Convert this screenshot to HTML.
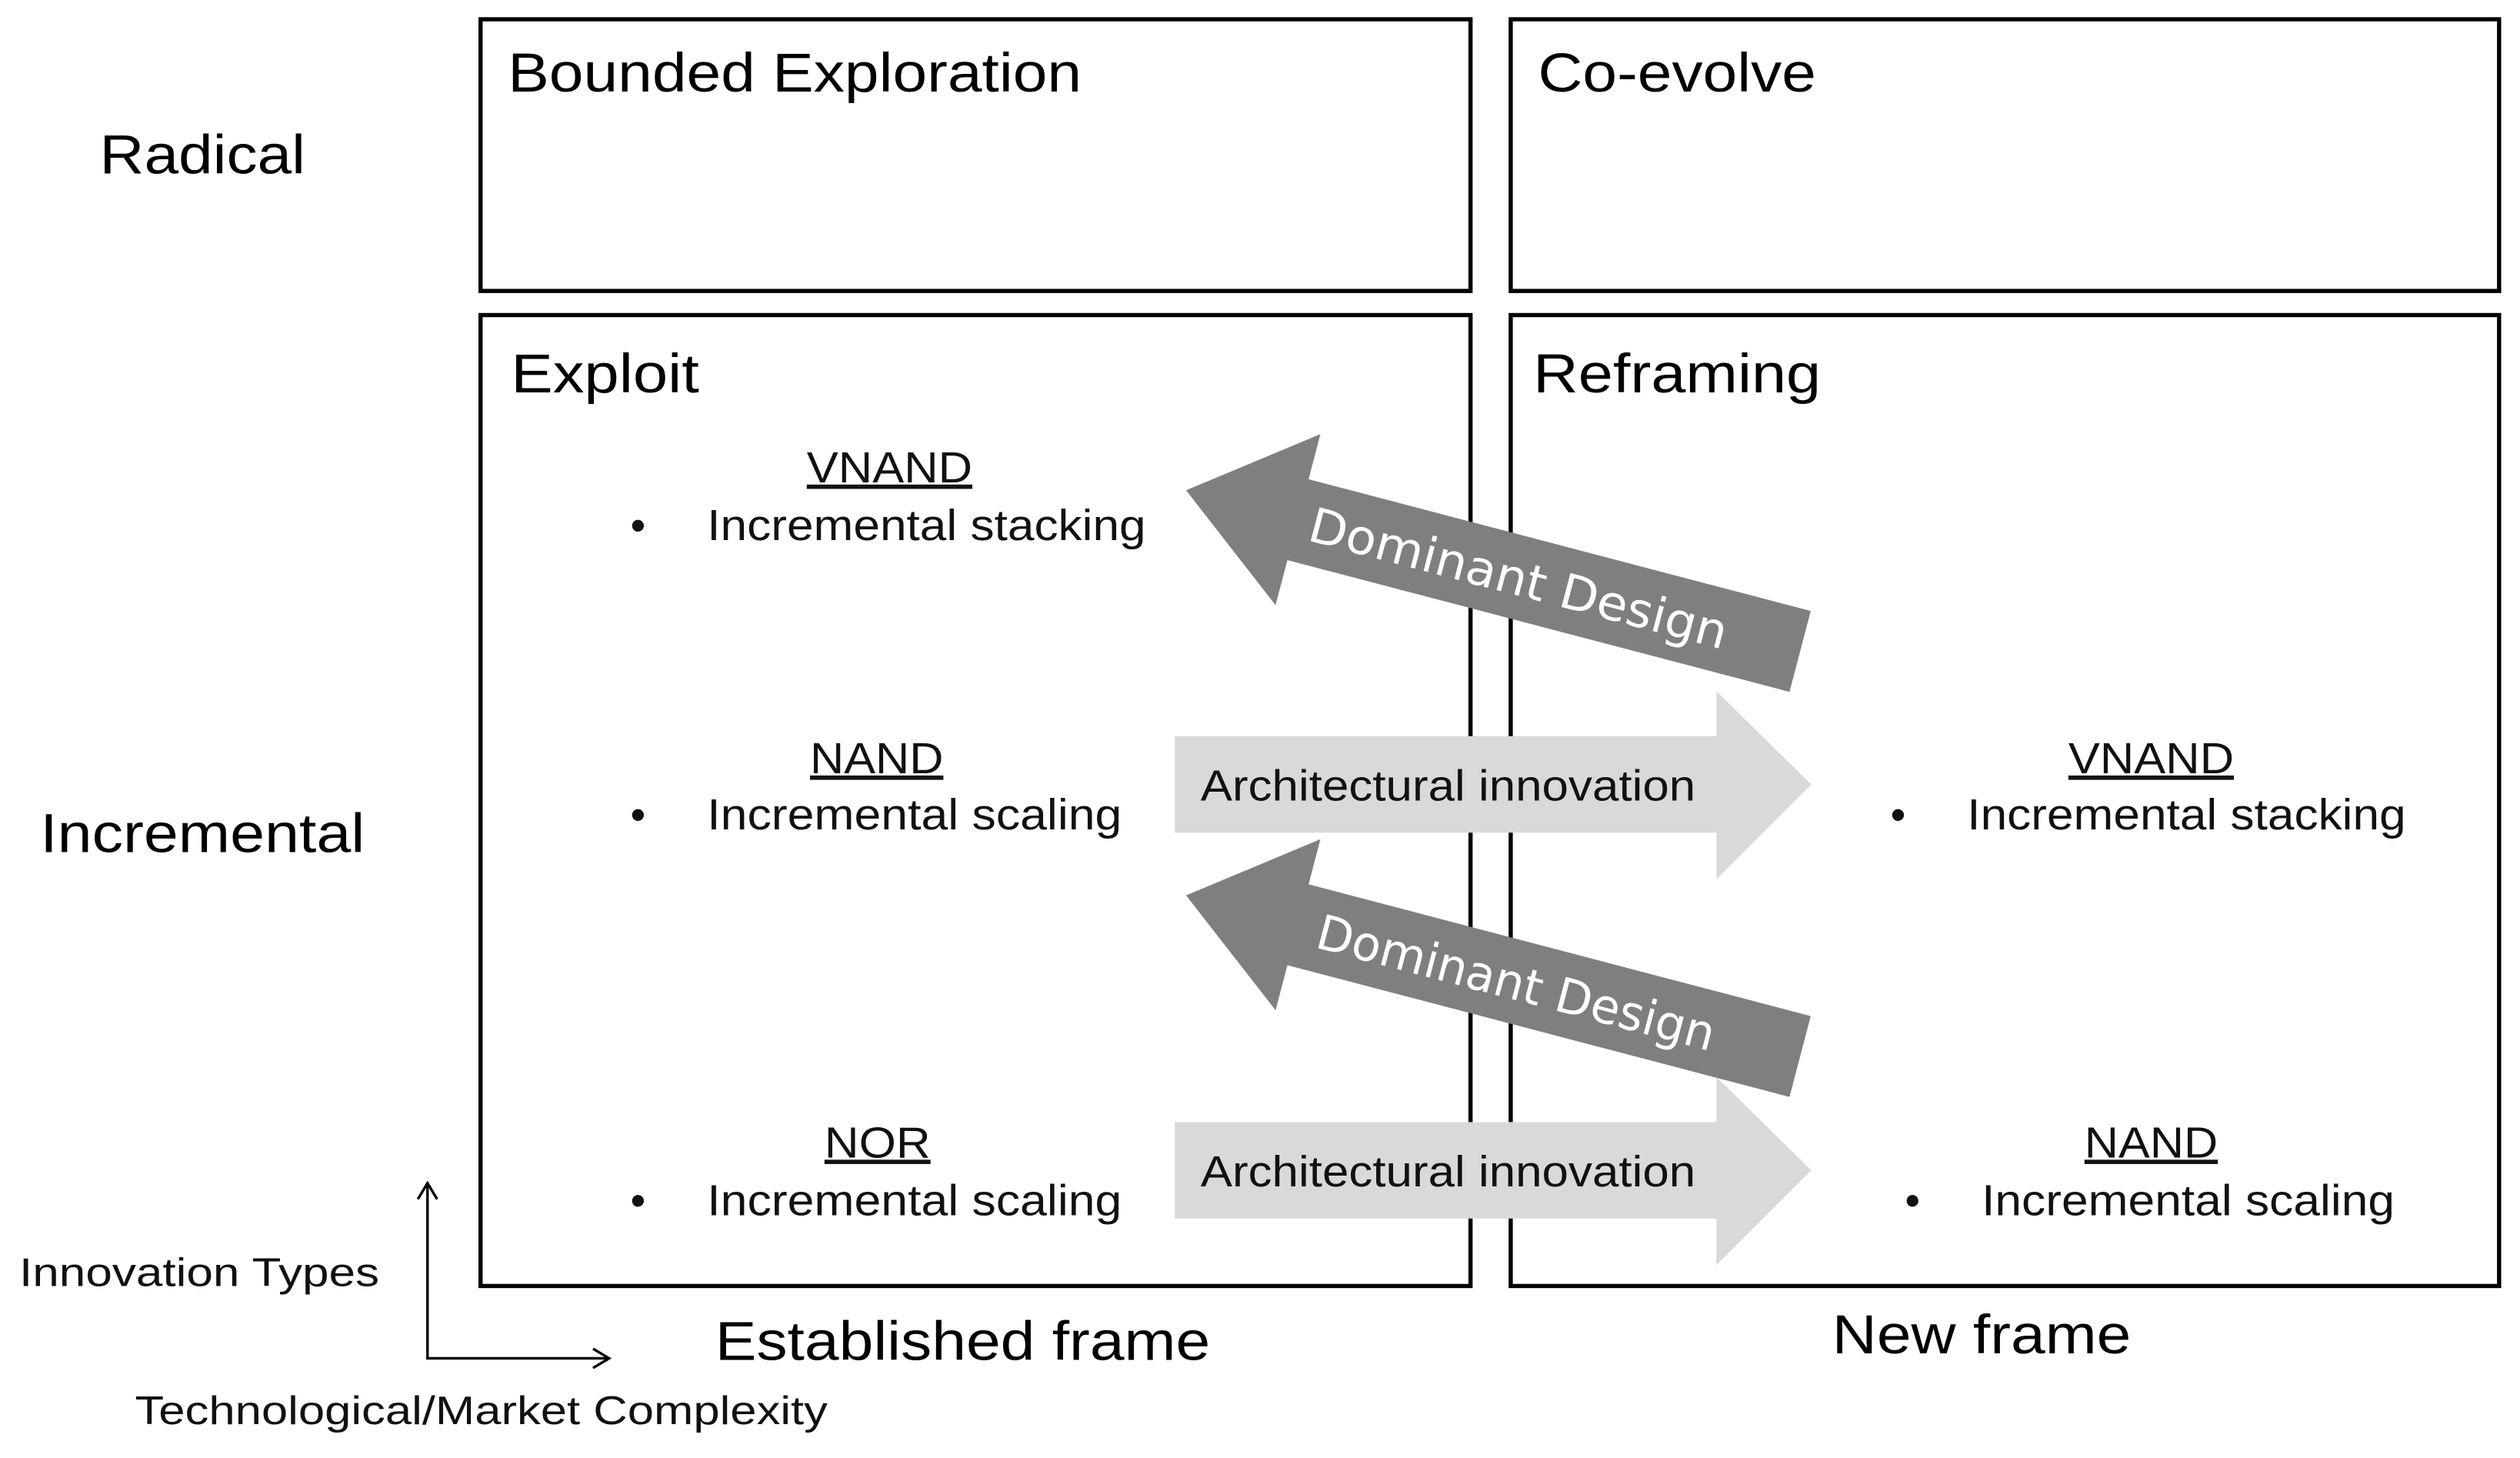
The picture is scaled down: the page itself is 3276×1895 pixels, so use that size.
<!DOCTYPE html>
<html><head><meta charset="utf-8"><style>html,body{margin:0;padding:0;background:#fff}svg{display:block}</style></head>
<body>
<svg width="3276" height="1895" viewBox="0 0 1568 907" preserveAspectRatio="none" xmlns="http://www.w3.org/2000/svg" font-family="Liberation Sans, sans-serif">
<rect x="0" y="0" width="1568" height="907" fill="#fff"/>
<g fill="none" stroke="#000" stroke-width="2.6">
<rect x="299" y="12" width="616" height="169"/>
<rect x="940" y="12" width="615" height="169"/>
<rect x="299" y="196" width="616" height="604"/>
<rect x="940" y="196" width="615" height="604"/>
</g>
<polygon points="731,458 1068,458 1068,430 1127,488 1068,547 1068,518 731,518" fill="#d9d9d9"/>
<polygon points="731,698 1068,698 1068,670 1127,728 1068,787 1068,758 731,758" fill="#d9d9d9"/>
<g font-size="27" fill="#111">
<text x="747" y="498" textLength="308" lengthAdjust="spacingAndGlyphs">Architectural innovation</text>
<text x="747" y="738" textLength="308" lengthAdjust="spacingAndGlyphs">Architectural innovation</text>
</g>
<g transform="translate(738,305) rotate(14.7)">
<polygon points="0,0 72,-55 72,-26 395,-26 395,26 72,26 72,55" fill="#7f7f7f"/>
<text x="80" y="11" font-size="30" fill="#fff" textLength="268" lengthAdjust="spacingAndGlyphs" font-family="DejaVu Sans, sans-serif">Dominant Design</text>
</g>
<g transform="translate(738,557) rotate(14.7)">
<polygon points="0,0 72,-55 72,-26 395,-26 395,26 72,26 72,55" fill="#7f7f7f"/>
<text x="85" y="11" font-size="30" fill="#fff" textLength="255" lengthAdjust="spacingAndGlyphs" font-family="DejaVu Sans, sans-serif">Dominant Design</text>
</g>
<g fill="#000" font-size="34" lengthAdjust="spacingAndGlyphs">
<text x="316" y="57" textLength="357" lengthAdjust="spacingAndGlyphs">Bounded Exploration</text>
<text x="957" y="57" textLength="173" lengthAdjust="spacingAndGlyphs">Co-evolve</text>
<text x="62" y="108" textLength="128" lengthAdjust="spacingAndGlyphs">Radical</text>
<text x="25" y="530" textLength="202" lengthAdjust="spacingAndGlyphs">Incremental</text>
<text x="318" y="244" textLength="117" lengthAdjust="spacingAndGlyphs">Exploit</text>
<text x="954" y="244" textLength="179" lengthAdjust="spacingAndGlyphs">Reframing</text>
<text x="445" y="846" textLength="308" lengthAdjust="spacingAndGlyphs">Established frame</text>
<text x="1140" y="842" textLength="186" lengthAdjust="spacingAndGlyphs">New frame</text>
</g>
<g fill="#111" font-size="27">
<text x="502" y="300" text-decoration="underline" textLength="103" lengthAdjust="spacingAndGlyphs">VNAND</text>
<text x="397" y="336" text-anchor="middle">•</text>
<text x="440" y="336" textLength="273" lengthAdjust="spacingAndGlyphs">Incremental stacking</text>
<text x="504" y="481" text-decoration="underline" textLength="83" lengthAdjust="spacingAndGlyphs">NAND</text>
<text x="397" y="516" text-anchor="middle">•</text>
<text x="440" y="516" textLength="258" lengthAdjust="spacingAndGlyphs">Incremental scaling</text>
<text x="513" y="720" text-decoration="underline" textLength="66" lengthAdjust="spacingAndGlyphs">NOR</text>
<text x="397" y="756" text-anchor="middle">•</text>
<text x="440" y="756" textLength="258" lengthAdjust="spacingAndGlyphs">Incremental scaling</text>
<text x="1287" y="481" text-decoration="underline" textLength="103" lengthAdjust="spacingAndGlyphs">VNAND</text>
<text x="1181" y="516" text-anchor="middle">•</text>
<text x="1224" y="516" textLength="273" lengthAdjust="spacingAndGlyphs">Incremental stacking</text>
<text x="1297" y="720" text-decoration="underline" textLength="83" lengthAdjust="spacingAndGlyphs">NAND</text>
<text x="1190" y="756" text-anchor="middle">•</text>
<text x="1233" y="756" textLength="257" lengthAdjust="spacingAndGlyphs">Incremental scaling</text>
</g>
<g font-size="25" fill="#111">
<text x="12" y="800" textLength="224" lengthAdjust="spacingAndGlyphs">Innovation  Types</text>
<text x="84" y="886" textLength="431" lengthAdjust="spacingAndGlyphs">Technological/Market Complexity</text>
</g>
<g stroke="#000" stroke-width="1.6" fill="none">
<polyline points="266,737 266,845 378,845"/>
<polyline points="260,746 266,736 272,746"/>
<polyline points="369,839 379,845 369,851"/>
</g>
</svg>
</body></html>
